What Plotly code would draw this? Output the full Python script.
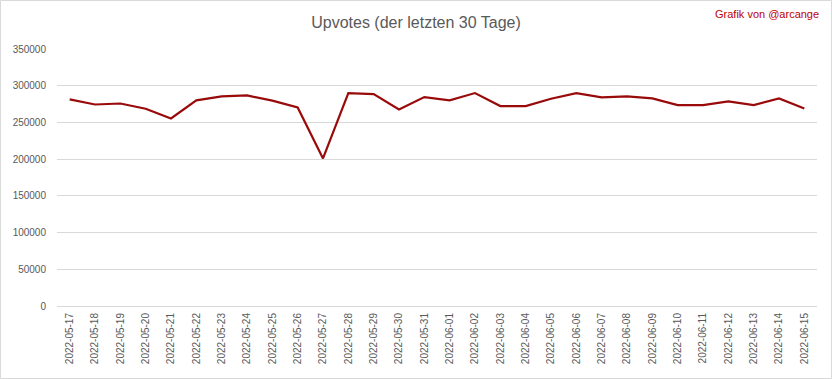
import plotly.graph_objects as go

dates = ["2022-05-17","2022-05-18","2022-05-19","2022-05-20","2022-05-21","2022-05-22","2022-05-23",
         "2022-05-24","2022-05-25","2022-05-26","2022-05-27","2022-05-28","2022-05-29","2022-05-30",
         "2022-05-31","2022-06-01","2022-06-02","2022-06-03","2022-06-04","2022-06-05","2022-06-06",
         "2022-06-07","2022-06-08","2022-06-09","2022-06-10","2022-06-11","2022-06-12","2022-06-13",
         "2022-06-14","2022-06-15"]
upvotes = [281300, 274400, 275800, 268600, 255400, 280000, 285400, 286800, 279600, 270400,
           201000, 290000, 288600, 267700, 284500, 280000, 290000, 272300, 272300, 282300,
           290000, 284100, 285400, 282700, 273600, 273600, 278600, 273600, 282700, 269000]
y_ticks = [0, 50000, 100000, 150000, 200000, 250000, 300000, 350000]

W, H = 832, 379
L, R, T, B = 57, 15, 49, 73

fig = go.Figure(go.Scatter(x=dates, y=upvotes, mode="lines",
                           line=dict(color="#990a0a", width=2.2)))

font = "Liberation Sans, Arial"
fig.update_layout(
    width=W, height=H,
    margin=dict(l=L, r=R, t=T, b=B, autoexpand=False),
    paper_bgcolor="white", plot_bgcolor="white",
    showlegend=False,
    font=dict(family=font, color="#595959", size=10),
    title=dict(text="Upvotes (der letzten 30 Tage)", x=0.5, xanchor="center",
               y=1 - 22 / H, yanchor="middle",
               font=dict(size=16, color="#595959", family=font)),
    xaxis=dict(type="category", range=[-0.5, len(dates) - 0.5], automargin=False,
               tickangle=-90, showgrid=False, showline=False,
               zeroline=False, ticks="", tickfont=dict(size=10, color="#595959"),
               ticklabelstandoff=4),
    yaxis=dict(range=[0, 350000], automargin=False, tickvals=y_ticks,
               ticktext=[str(v) for v in y_ticks],
               showgrid=True, gridcolor="#d9d9d9", gridwidth=1, zeroline=True,
               zerolinecolor="#d9d9d9", zerolinewidth=1, showline=False, ticks="",
               tickfont=dict(size=10, color="#595959"), ticklabelstandoff=10),
)

pw, ph = W - L - R, H - T - B
fig.add_annotation(text="Grafik von @arcange", xref="paper", yref="paper",
                   x=(821 - L) / pw, y=(H - 14 - B) / ph, xanchor="right", yanchor="middle",
                   showarrow=False, font=dict(size=11, color="#c00000", family=font))
fig.add_shape(type="rect", xref="paper", yref="paper",
              x0=(0.5 - L) / pw, x1=(W - 0.5 - L) / pw,
              y0=(-(B - 0.5)) / ph, y1=(H - 0.5 - B) / ph,
              line=dict(color="#d9d9d9", width=1), fillcolor="rgba(0,0,0,0)", layer="above")

fig.write_html("out.html", config={"displayModeBar": False},
               post_script="document.body.style.margin='0';document.body.style.overflow='hidden';")
